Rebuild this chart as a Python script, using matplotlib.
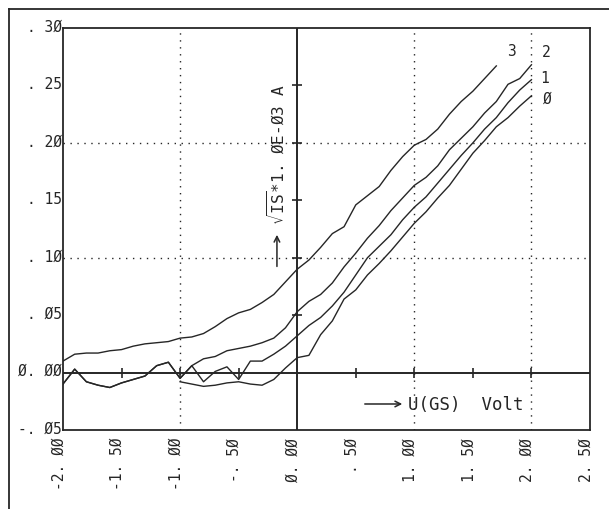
import matplotlib.pyplot as plt
from matplotlib.lines import Line2D
from matplotlib.transforms import ScaledTranslation

plt.rcParams['font.family'] = ['DejaVu Sans Mono', 'DejaVu Sans']
plt.rcParams['mathtext.fontset'] = 'dejavusans'

INK = '#262626'

# gate-source voltage, 0.1 V steps
u_gs = [-2.0, -1.9, -1.8, -1.7, -1.6, -1.5, -1.4, -1.3, -1.2, -1.1,
        -1.0, -0.9, -0.8, -0.7, -0.6, -0.5, -0.4, -0.3, -0.2, -0.1,
        0.0, 0.1, 0.2, 0.3, 0.4, 0.5, 0.6, 0.7, 0.8, 0.9,
        1.0, 1.1, 1.2, 1.3, 1.4, 1.5, 1.6, 1.7, 1.8, 1.9, 2.0]

# common leakage trace of curves 1 and 2 (-2.0 .. -0.9 V)
leak = [-0.010, 0.003, -0.008, -0.011, -0.013, -0.009, -0.006, -0.003,
        0.006, 0.009, -0.005, 0.006]

sqrt_is_3 = [0.010, 0.016, 0.017, 0.017, 0.019, 0.020, 0.023, 0.025, 0.026,
             0.027, 0.030, 0.031, 0.034, 0.040, 0.047, 0.052, 0.055, 0.061,
             0.068, 0.079, 0.090, 0.098, 0.109, 0.121, 0.127, 0.146, 0.154,
             0.162, 0.176, 0.188, 0.198, 0.203, 0.212, 0.225, 0.236, 0.245,
             0.256, 0.267]
sqrt_is_2 = leak + [0.012, 0.014, 0.019, 0.021, 0.023, 0.026, 0.030, 0.039,
                    0.053, 0.062, 0.068, 0.078, 0.092, 0.104, 0.117, 0.128,
                    0.141, 0.152, 0.163, 0.170, 0.180, 0.194, 0.204, 0.214,
                    0.226, 0.236, 0.251, 0.256, 0.268]
sqrt_is_1 = leak + [-0.008, 0.001, 0.005, -0.006, 0.010, 0.010, 0.016, 0.023,
                    0.032, 0.041, 0.048, 0.058, 0.070, 0.085, 0.100, 0.110,
                    0.120, 0.133, 0.144, 0.153, 0.165, 0.177, 0.189, 0.200,
                    0.212, 0.222, 0.235, 0.246, 0.255]
sqrt_is_0 = [-0.008, -0.010, -0.012, -0.011, -0.009, -0.008, -0.010, -0.011,
             -0.006, 0.004, 0.013, 0.015, 0.033, 0.045, 0.064, 0.072, 0.085,
             0.095, 0.106, 0.118, 0.130, 0.140, 0.152, 0.163, 0.177, 0.191,
             0.202, 0.214, 0.222, 0.232, 0.241]

curves = [
    ('3', u_gs[:len(sqrt_is_3)], sqrt_is_3, (15, 15)),
    ('2', u_gs, sqrt_is_2, (15, 13)),
    ('1', u_gs, sqrt_is_1, (13, 2)),
    ('Ø', u_gs[-len(sqrt_is_0):], sqrt_is_0, (16, -2)),
]

x_ticks = [-2.0, -1.5, -1.0, -0.5, 0.0, 0.5, 1.0, 1.5, 2.0, 2.5]
x_labels = ['-2. ØØ', '-1. 5Ø', '-1. ØØ', '-. 5Ø', 'Ø. ØØ',
            '. 5Ø', '1. ØØ', '1. 5Ø', '2. ØØ', '2. 5Ø']
y_ticks = [-0.05, 0.0, 0.05, 0.10, 0.15, 0.20, 0.25, 0.30]
y_labels = ['-. Ø5', 'Ø. ØØ', '. Ø5', '. 1Ø', '. 15', '. 2Ø', '. 25', '. 3Ø']

fig = plt.figure(figsize=(6.09, 5.10), dpi=100)
ax = fig.add_axes([0.1034, 0.1549, 0.8654, 0.7882])
ax.set_xlim(-2.0, 2.5)
ax.set_ylim(-0.05, 0.30)

for side in ax.spines.values():
    side.set_color(INK)
    side.set_linewidth(1.3)

# dotted grid every 1 V / 0.1, solid axes through the origin
for gx in x_ticks[2::2]:
    if gx != 0.0:
        ax.axvline(gx, color=INK, lw=1.0, ls=(0, (1, 4)), zorder=1)
for gy in y_ticks[3::2]:
    if gy < 0.3:
        ax.axhline(gy, color=INK, lw=1.0, ls=(0, (1, 4)), zorder=1)
ax.axvline(0.0, color=INK, lw=1.4, zorder=2)
ax.axhline(0.0, color=INK, lw=1.4, zorder=2)

# small cross ticks on the origin axes
inner_x = [t for t in x_ticks if -2.0 < t < 2.5 and t != 0.0]
inner_y = [t for t in y_ticks if -0.05 < t < 0.30 and t != 0.0]
ax.plot(inner_x, [0.0] * len(inner_x), ls='none', marker='|', ms=7,
        mew=1.2, color=INK, zorder=3)
ax.plot([0.0] * len(inner_y), inner_y, ls='none', marker='_', ms=7,
        mew=1.2, color=INK, zorder=3)

for name, xs, ys, off in curves:
    ax.plot(xs, ys, color=INK, lw=1.0, zorder=4)
    ax.annotate(name, xy=(xs[-1], ys[-1]), xytext=off,
                textcoords='offset pixels', fontsize=10.5, color=INK,
                ha='center', va='center')

ax.set_xticks(x_ticks)
ax.set_xticklabels(x_labels, rotation=90, va='top', fontsize=10.5,
                   color=INK)
ax.set_yticks(y_ticks)
ax.set_yticklabels(y_labels, fontsize=10.5, color=INK)
ax.tick_params(length=0)
ax.tick_params(axis='x', pad=5)
ax.tick_params(axis='y', pad=1)
for lab in ax.get_xticklabels():
    lab.set_transform(lab.get_transform()
                      + ScaledTranslation(-0.04, 0, fig.dpi_scale_trans))
for lab in ax.get_yticklabels():
    lab.set_transform(lab.get_transform()
                      + ScaledTranslation(0, 0.035, fig.dpi_scale_trans))

# axis captions with plotter arrows
ax.annotate('', xy=(0.406, 0.4925), xytext=(0.406, 0.40),
            xycoords='axes fraction',
            arrowprops=dict(arrowstyle='->', color=INK, lw=1.1))
ax.text(0.406, 0.512, r'$\sqrt{\mathtt{IS}}$*1. ØE-Ø3 A', rotation=90,
        transform=ax.transAxes, ha='center', va='bottom', fontsize=11.5,
        color=INK)
ax.annotate('', xy=(0.649, 0.0647), xytext=(0.5674, 0.0647),
            xycoords='axes fraction',
            arrowprops=dict(arrowstyle='->', color=INK, lw=1.1))
ax.text(0.6546, 0.0647, 'U(GS)  Volt', transform=ax.transAxes,
        ha='left', va='center', fontsize=12.5, color=INK)

# outer frame of the sheet
fig.add_artist(Line2D([0.0148, 0.0148], [0.0, 0.980], color=INK, lw=1.3))
fig.add_artist(Line2D([0.0148, 1.0], [0.980, 0.980], color=INK, lw=1.3))

fig.savefig('out.png', dpi=100)
